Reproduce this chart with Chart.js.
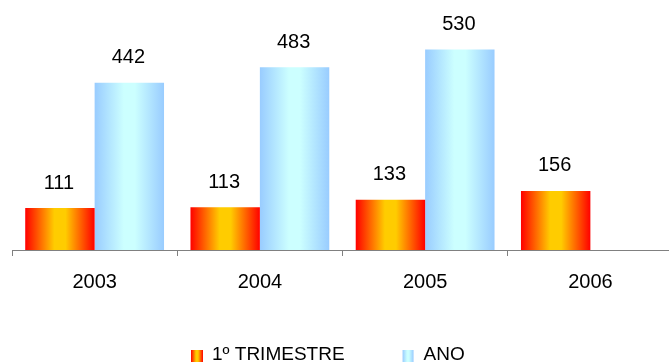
<!DOCTYPE html>
<html>
<head>
<meta charset="utf-8">
<script src="https://cdn.jsdelivr.net/npm/chart.js@4/dist/chart.umd.min.js"></script>
<style>
  html, body { margin: 0; padding: 0; background: #fff; overflow: hidden; }
  #clip { width: 669px; height: 363px; overflow: hidden; }
  #wrap { width: 680px; height: 363px; position: relative; }
</style>
</head>
<body>
<div id="clip"><div id="wrap"><canvas id="chart"></canvas></div></div>
<script>
// data
var years = ['2003', '2004', '2005', '2006'];
var trimestre = [111, 113, 133, 156];
var ano = [442, 483, 530, null];
var seriesNames = ['1º TRIMESTRE', 'ANO'];

var FONT = '"Liberation Sans", Arial, sans-serif';
var CAT_PCT = 0.84;
var orangeStops = ['#ff0000', '#ffcc00', '#ffcc00', '#ff0000'];
var blueStops = ['#99ccff', '#ccffff', '#ccffff', '#99ccff'];

function addStops(g, stops) {
    g.addColorStop(0, stops[0]);
    g.addColorStop(0.42, stops[1]);
    g.addColorStop(0.58, stops[2]);
    g.addColorStop(1, stops[3]);
    return g;
}

// horizontal gradient per bar, placed from the category scale
function barFill(stops) {
    return function(c) {
        var chart = c.chart, xs = chart.scales.x;
        if (!xs || c.dataIndex === undefined || !xs.width) return stops[1];
        var catW = xs.width / years.length;
        var barW = catW * CAT_PCT / 2;
        var left = xs.getPixelForValue(c.dataIndex) - catW * CAT_PCT / 2 + c.datasetIndex * barW;
        return addStops(chart.ctx.createLinearGradient(left, 0, left + barW, 0), stops);
    };
}

var valueLabels = {
    id: 'valueLabels',
    afterDatasetsDraw: function(chart) {
        var ctx = chart.ctx;
        ctx.save();
        ctx.font = '20px ' + FONT;
        ctx.fillStyle = '#000';
        ctx.textAlign = 'center';
        ctx.textBaseline = 'middle';
        chart.data.datasets.forEach(function(ds, i) {
            chart.getDatasetMeta(i).data.forEach(function(bar, j) {
                var v = ds.data[j];
                if (v === null || v === undefined) return;
                ctx.fillText(String(v), bar.x - 1, bar.y - 25);
            });
        });
        ctx.restore();
    }
};

// legend drawn under the axis, boxes carry the same gradients as the bars
var bottomLegend = {
    id: 'bottomLegend',
    afterDraw: function(chart) {
        var ctx = chart.ctx;
        var stops = [orangeStops, blueStops];
        var boxW = [12, 11];
        var x = 191, y = 350, gapText = 9, gapItem = 58;
        ctx.save();
        ctx.font = '19px ' + FONT;
        ctx.fillStyle = '#000';
        ctx.textBaseline = 'middle';
        chart.data.datasets.forEach(function(ds, i) {
            var g = ctx.createLinearGradient(x, 0, x + boxW[i], 0);
            ctx.fillStyle = addStops(g, stops[i]);
            ctx.fillRect(x, y, boxW[i], 12);
            x += boxW[i] + gapText + (i === 1 ? 1 : 0);
            ctx.fillStyle = '#000';
            ctx.fillText(ds.label, x, y + 5);
            x += ctx.measureText(ds.label).width + gapItem;
        });
        ctx.restore();
    }
};

new Chart(document.getElementById('chart'), {
    type: 'bar',
    data: {
        labels: years,
        datasets: [{
            label: seriesNames[0],
            data: trimestre,
            backgroundColor: barFill(orangeStops),
            borderWidth: 0,
            categoryPercentage: CAT_PCT,
            barPercentage: 1
        }, {
            label: seriesNames[1],
            data: ano,
            backgroundColor: barFill(blueStops),
            borderWidth: 0,
            categoryPercentage: CAT_PCT,
            barPercentage: 1
        }]
    },
    options: {
        responsive: true,
        maintainAspectRatio: false,
        animation: false,
        devicePixelRatio: 1,
        layout: { padding: { left: 12, right: 7, top: 23, bottom: 55 } },
        scales: {
            x: {
                grid: { display: true, drawOnChartArea: false, drawTicks: true, tickLength: 6, color: '#808080', offset: true },
                border: { display: true, color: '#808080' },
                ticks: { color: '#000', font: { family: FONT, size: 20 }, padding: 14 }
            },
            y: { display: false, min: 0, max: 600 }
        },
        plugins: {
            tooltip: { enabled: false },
            legend: { display: false }
        }
    },
    plugins: [valueLabels, bottomLegend]
});
</script>
</body>
</html>
